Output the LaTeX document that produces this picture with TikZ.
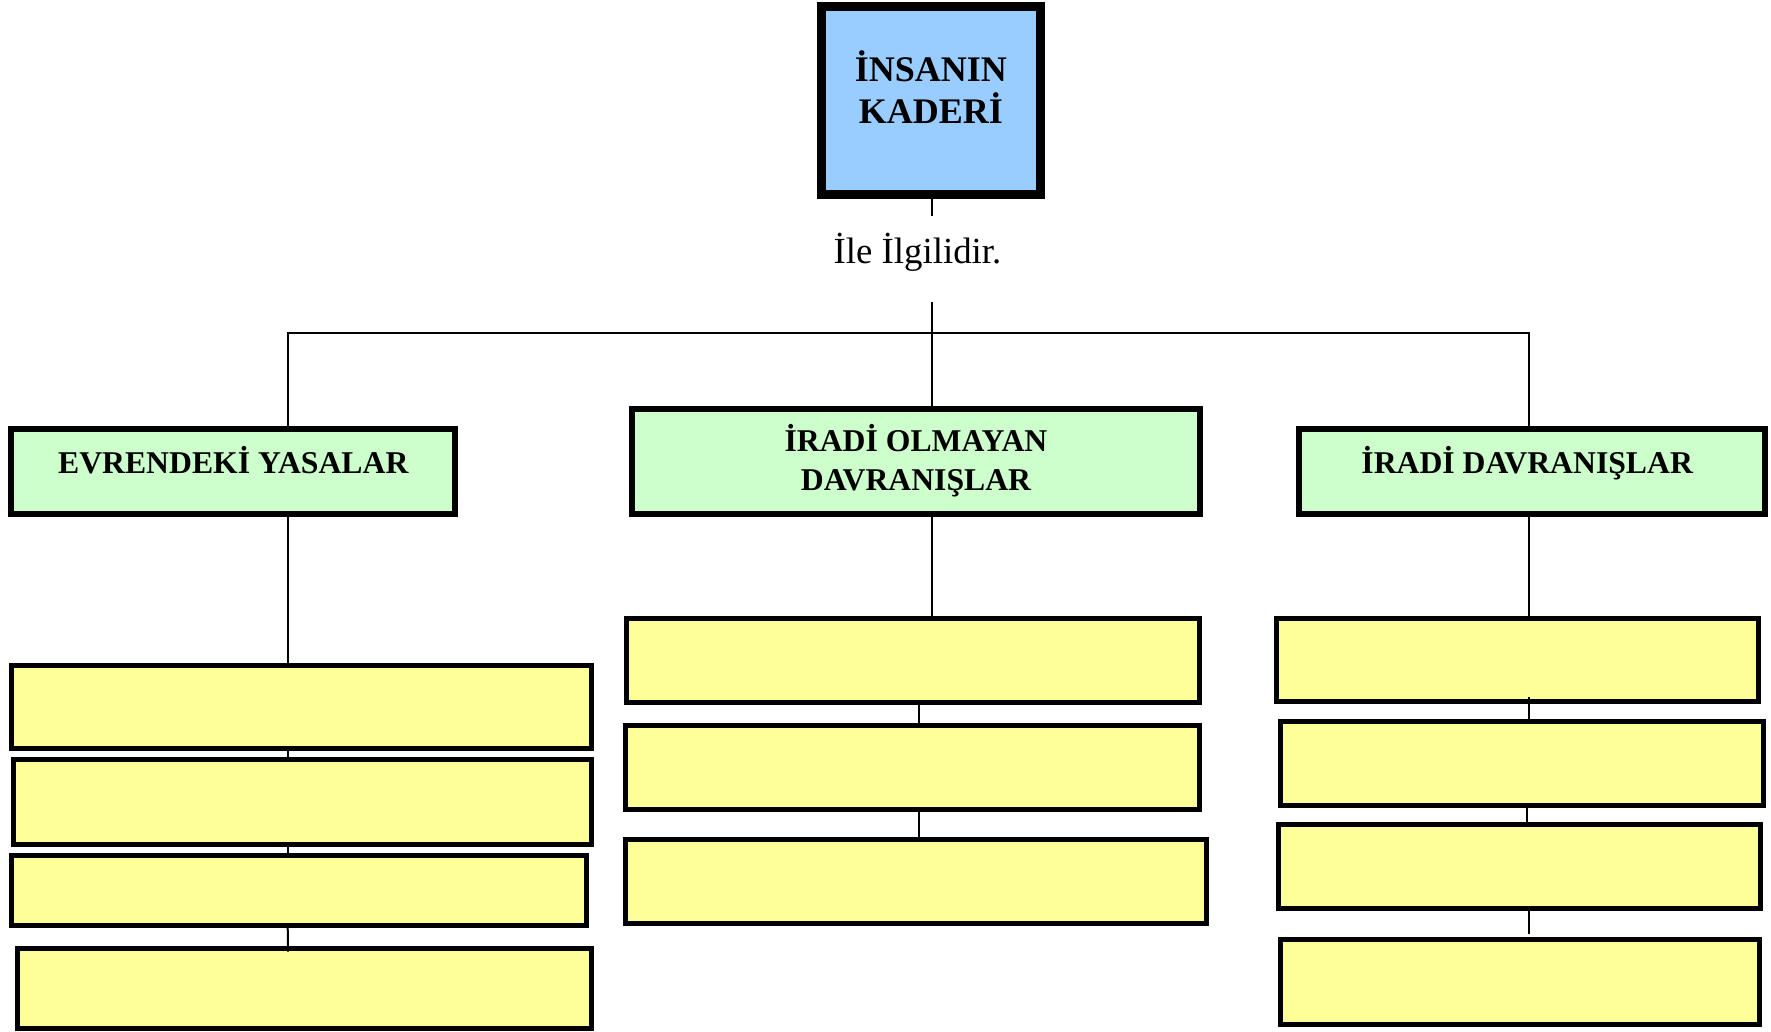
\documentclass[tikz,border=0pt]{standalone}
\usepackage{fontspec}
\setmainfont{Liberation Serif}
\definecolor{topblue}{HTML}{99CCFF}
\definecolor{boxgreen}{HTML}{CCFFCC}
\definecolor{boxyellow}{HTML}{FFFF99}
\tikzset{
  topbox/.style={draw=black, fill=topblue, line width=4.5pt, inner sep=0pt, outer sep=0pt},
  greenbox/.style={draw=black, fill=boxgreen, line width=3pt, inner sep=0pt, outer sep=0pt},
  yellowbox/.style={draw=black, fill=boxyellow, line width=2.5pt, inner sep=0pt, outer sep=0pt},
  titletext/.style={anchor=base, inner sep=0pt, font=\fontsize{18}{21}\selectfont\bfseries},
  headtext/.style={anchor=base, inner sep=0pt, font=\fontsize{15.85}{19}\selectfont\bfseries},
  labeltext/.style={anchor=base, inner sep=0pt, font=\fontsize{18.4}{22}\selectfont},
  conn/.style={draw=black, line width=1pt}
}
\begin{document}
\begin{tikzpicture}[x=0.5pt, y=-0.5pt]
\useasboundingbox (0,0) rectangle (1771,1032);

% top box
\node[topbox, minimum width=109.65pt, minimum height=94.15pt] (T) at (930.85,100.35) {};
\node[titletext] (t1) at (930.8,81.7) {İNSANIN};
\node[titletext] (t2) at (930.8,123.3) {KADERİ};

% label
\node[labeltext] (lab) at (917.5,263.3) {İle İlgilidir.};

% green boxes
\node[greenbox, minimum width=221.7pt, minimum height=42.65pt] (G1) at (233,471.65) {};
\node[greenbox, minimum width=283.7pt, minimum height=52.5pt] (G2) at (916,461.5) {};
\node[greenbox, minimum width=232.85pt, minimum height=42.65pt] (G3) at (1531.85,471.65) {};
\node[headtext] (g1t) at (233.3,473.3) {EVRENDEKİ YASALAR};
\node[headtext] (g2a) at (916,451.7) {İRADİ OLMAYAN};
\node[headtext] (g2b) at (916,490.7) {DAVRANIŞLAR};
\node[headtext] (g3t) at (1527.2,473.3) {İRADİ DAVRANIŞLAR};

% yellow boxes, left
\node[yellowbox, minimum width=289.6pt, minimum height=41.8pt] (L1) at (301.4,707) {};
\node[yellowbox, minimum width=289.3pt, minimum height=42.35pt] (L2) at (302.5,801.85) {};
\node[yellowbox, minimum width=287.5pt, minimum height=35.15pt] (L3) at (299.3,890.65) {};
\node[yellowbox, minimum width=287.3pt, minimum height=40.15pt] (L4) at (304.5,988.35) {};
% yellow boxes, middle
\node[yellowbox, minimum width=286.65pt, minimum height=41.75pt] (M1) at (913.15,660.25) {};
\node[yellowbox, minimum width=287.15pt, minimum height=42.15pt] (M2) at (912.35,767.35) {};
\node[yellowbox, minimum width=290.5pt, minimum height=41.85pt] (M3) at (916.3,881.65) {};
% yellow boxes, right
\node[yellowbox, minimum width=241.15pt, minimum height=41.65pt] (R1) at (1517.35,660.15) {};
\node[yellowbox, minimum width=241.5pt, minimum height=42pt] (R2) at (1522.3,763.5) {};
\node[yellowbox, minimum width=241pt, minimum height=42pt] (R3) at (1519.2,866.8) {};
\node[yellowbox, minimum width=239.2pt, minimum height=42.5pt] (R4) at (1520,981.7) {};

% connector coordinates
\coordinate (c1) at (931.7,216);
\coordinate (c2) at (931.7,302);
\coordinate (hl) at (287.7,333);
\coordinate (hr) at (1529.3,333);
\coordinate (mx) at (919.3,0);
\coordinate (l34) at (288,951.7);
\coordinate (r12) at (1528.7,696.7);
\coordinate (rb) at (1527,0);
\coordinate (r34) at (1529.3,934.3);

% connectors
\draw[conn] (c1 |- T.south) -- (c1);
\draw[conn] (c2) -- (c2 |- G2.north);
\draw[conn] (hl |- G1.north) -- (hl) -- (hr) -- (hr |- G3.north);

\draw[conn] (hl |- G1.south) -- (hl |- L1.north);
\draw[conn] (hl |- L1.south) -- (hl |- L2.north);
\draw[conn] (hl |- L2.south) -- (hl |- L3.north);
\draw[conn] (hl |- L3.south) -- (l34);

\draw[conn] (c2 |- G2.south) -- (c2 |- M1.north);
\draw[conn] (mx |- M1.south) -- (mx |- M2.north);
\draw[conn] (mx |- M2.south) -- (mx |- M3.north);

\draw[conn] (hr |- G3.south) -- (hr |- R1.north);
\draw[conn] (r12) -- (r12 |- R2.north);
\draw[conn] (rb |- R2.south) -- (rb |- R3.north);
\draw[conn] (hr |- R3.south) -- (r34);
\end{tikzpicture}
\end{document}
